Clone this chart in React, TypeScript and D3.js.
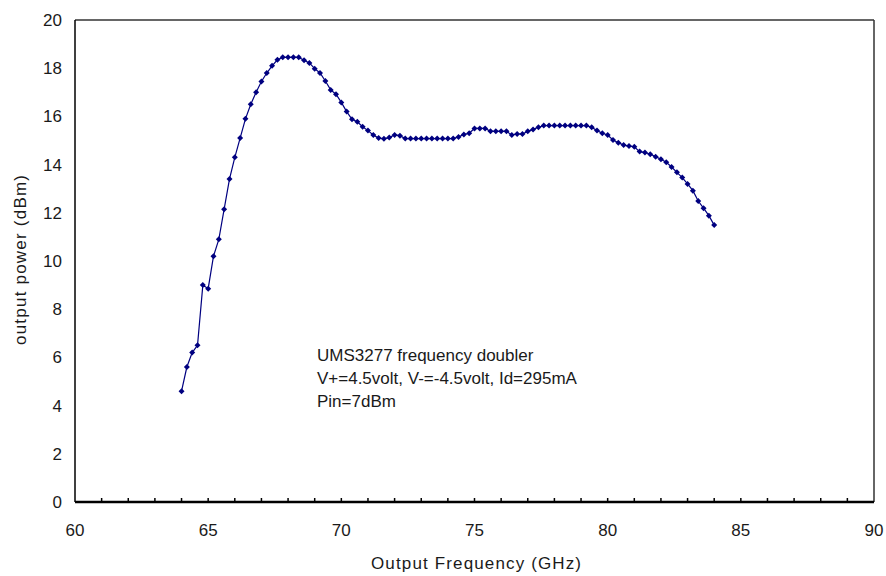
import React from "react";
import * as d3 from "d3";

const frequencies: number[] = [
  64.0, 64.2, 64.4, 64.6, 64.8, 65.0, 65.2, 65.4, 65.6, 65.8,
  66.0, 66.2, 66.4, 66.6, 66.8, 67.0, 67.2, 67.4, 67.6, 67.8,
  68.0, 68.2, 68.4, 68.6, 68.8, 69.0, 69.2, 69.4, 69.6, 69.8,
  70.0, 70.2, 70.4, 70.6, 70.8, 71.0, 71.2, 71.4, 71.6, 71.8,
  72.0, 72.2, 72.4, 72.6, 72.8, 73.0, 73.2, 73.4, 73.6, 73.8,
  74.0, 74.2, 74.4, 74.6, 74.8, 75.0, 75.2, 75.4, 75.6, 75.8,
  76.0, 76.2, 76.4, 76.6, 76.8, 77.0, 77.2, 77.4, 77.6, 77.8,
  78.0, 78.2, 78.4, 78.6, 78.8, 79.0, 79.2, 79.4, 79.6, 79.8,
  80.0, 80.2, 80.4, 80.6, 80.8, 81.0, 81.2, 81.4, 81.6, 81.8,
  82.0, 82.2, 82.4, 82.6, 82.8, 83.0, 83.2, 83.4, 83.6, 83.8,
  84.0,
];

const outputPower: number[] = [
  4.6, 5.6, 6.2, 6.5, 9.0, 8.85, 10.2, 10.9, 12.15, 13.4,
  14.3, 15.1, 15.9, 16.5, 17.0, 17.45, 17.8, 18.1, 18.35, 18.45,
  18.45, 18.45, 18.45, 18.33, 18.22, 17.98, 17.8, 17.47, 17.1, 16.92,
  16.58, 16.2, 15.88, 15.78, 15.57, 15.41, 15.23, 15.1, 15.07, 15.12,
  15.23, 15.2, 15.08, 15.08, 15.08, 15.08, 15.08, 15.08, 15.08, 15.08,
  15.08, 15.08, 15.15, 15.25, 15.3, 15.5, 15.5, 15.5, 15.38, 15.38,
  15.38, 15.38, 15.23, 15.27, 15.27, 15.38, 15.46, 15.55, 15.62, 15.62,
  15.62, 15.62, 15.62, 15.62, 15.62, 15.62, 15.62, 15.55, 15.41, 15.3,
  15.23, 15.02, 14.91, 14.81, 14.77, 14.74, 14.54, 14.5, 14.43, 14.33,
  14.22, 14.1, 13.9, 13.68, 13.46, 13.2, 12.92, 12.49, 12.19, 11.88,
  11.49,
];

const xTicks: number[] = [60, 65, 70, 75, 80, 85, 90];
const yTicks: number[] = [0, 2, 4, 6, 8, 10, 12, 14, 16, 18, 20];
const annotationLines: string[] = [
  "UMS3277 frequency doubler",
  "V+=4.5volt, V-=-4.5volt, Id=295mA",
  "Pin=7dBm",
];

export default function App() {
  const W = 886, H = 576;
  const left = 75, right = 874, top = 20, bottom = 502;
  const x = d3.scaleLinear().domain([60, 90]).range([left, right]);
  const y = d3.scaleLinear().domain([0, 20]).range([bottom, top]);
  const data = frequencies.map((f, i) => [f, outputPower[i]] as [number, number]);
  const line = d3.line<[number, number]>().x(d => x(d[0])).y(d => y(d[1]));
  const minor = d3.range(61, 90, 1);
  const font = "'Liberation Sans', Arial, sans-serif";
  const color = "#000080";
  const txt = "#1a1a1a";
  const fs = 17;
  const dsz = 3;
  return (
    <svg width={W} height={H} style={{ position: "absolute", left: 0, top: 0, background: "#fff" }}>
      <rect x={0} y={0} width={W} height={H} fill="#fff" />
      <line x1={left} y1={top} x2={right} y2={top} stroke="#333" strokeWidth={1.5} />
      <line x1={right} y1={top} x2={right} y2={bottom} stroke="#333" strokeWidth={1.5} />
      <line x1={left} y1={top} x2={left} y2={bottom} stroke="#000" strokeWidth={1.5} />
      {yTicks.map(t => (
        <text key={"y" + t} x={62} y={y(t) + 6} textAnchor="end" fontFamily={font} fontSize={fs} fill={txt}>{t}</text>
      ))}
      {minor.map(t => (
        <line key={"m" + t} x1={x(t)} x2={x(t)} y1={bottom} y2={bottom - 4} stroke="#000" strokeWidth={1.5} />
      ))}
      <line x1={left} y1={bottom} x2={right} y2={bottom} stroke="#000" strokeWidth={2.5} />
      {xTicks.map(t => (
        <text key={"x" + t} x={x(t)} y={536} textAnchor="middle" fontFamily={font} fontSize={fs} fill={txt}>{t}</text>
      ))}
      <text x={476} y={569} textAnchor="middle" fontFamily={font} fontSize={fs} fill={txt}
        textLength={210} lengthAdjust="spacing">Output Frequency (GHz)</text>
      <text transform={`translate(26,${260}) rotate(-90)`} textAnchor="middle" fontFamily={font} fontSize={fs} fill={txt}
        textLength={170} lengthAdjust="spacing">output power (dBm)</text>
      <path d={line(data) || ""} fill="none" stroke={color} strokeWidth={1.2} />
      {data.map((d, i) => (
        <path key={"p" + i}
          d={`M${x(d[0])},${y(d[1]) - dsz}L${x(d[0]) + dsz},${y(d[1])}L${x(d[0])},${y(d[1]) + dsz}L${x(d[0]) - dsz},${y(d[1])}Z`}
          fill={color} />
      ))}
      {annotationLines.map((s, i) => (
        <text key={"a" + i} x={317} y={361 + i * 23} fontFamily={font} fontSize={fs} fill={txt}>{s}</text>
      ))}
    </svg>
  );
}
